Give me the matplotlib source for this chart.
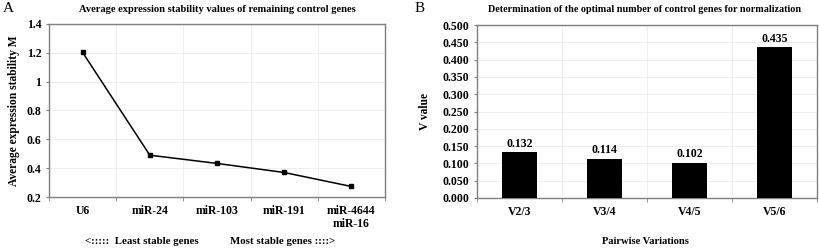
import matplotlib
matplotlib.use("Agg")
import matplotlib.pyplot as plt
import numpy as np

plt.rcParams['font.family'] = ['Liberation Serif', 'DejaVu Serif']
plt.rcParams['font.weight'] = 'bold'

genes = ["U6", "miR-24", "miR-103", "miR-191", "miR-4644\nmiR-16"]
stability_m = [1.203, 0.490, 0.433, 0.370, 0.273]
a_yticks = [0.2, 0.4, 0.6, 0.8, 1.0, 1.2, 1.4]
a_ytick_labels = ["0.2", "0.4", "0.6", "0.8", "1", "1.2", "1.4"]

pairs = ["V2/3", "V3/4", "V4/5", "V5/6"]
v_values = [0.132, 0.114, 0.102, 0.435]
b_yticks = [0.0, 0.05, 0.1, 0.15, 0.2, 0.25, 0.3, 0.35, 0.4, 0.45, 0.5]

W, H = 820, 248
fig = plt.figure(figsize=(W / 100, H / 100), dpi=100)

def ax_rect(l, t, r, b):
    return [l / W, 1 - b / H, (r - l) / W, (b - t) / H]

spine_col = "#7f7f7f"
grid_col = "#ececec"
fs_tick = 8.5

# Panel A
axA = fig.add_axes(ax_rect(49, 24, 385, 197))
x = np.arange(len(genes))
axA.plot(x, stability_m, color="black", lw=1.1, marker="s", ms=3.5, zorder=3)
axA.set_xlim(-0.5, len(genes) - 0.5)
axA.set_ylim(0.2, 1.4)
axA.set_yticks(a_yticks)
axA.set_yticklabels(a_ytick_labels, fontsize=fs_tick, fontweight="bold")
axA.set_xticks(x)
axA.set_xticklabels(genes, fontsize=fs_tick, fontweight="bold", linespacing=1.05)
axA.tick_params(axis="x", length=0, pad=6)
axA.tick_params(axis="y", length=2.5, color=spine_col, pad=3)
axA.set_xticks(np.arange(-0.5, len(genes), 1), minor=True)
axA.tick_params(axis="x", which="minor", length=3, color=spine_col, direction="out")
axA.grid(True, which="major", axis="y", color=grid_col, lw=0.6)
axA.grid(True, which="minor", axis="x", color=grid_col, lw=0.6)
axA.set_axisbelow(True)
for s in axA.spines.values():
    s.set_color(spine_col)
    s.set_linewidth(1.0)
axA.set_ylabel("Average expression stability M", fontsize=8.3, fontweight="bold", labelpad=5)
fig.text(217 / W, 1 - 9 / H, "Average expression stability values of remaining control genes",
         ha="center", va="center", fontsize=7.6, fontweight="bold")
fig.text(3 / W, 1 - 9 / H, "A", ha="left", va="center", fontsize=11, fontweight="normal")
fig.text(85 / W, 1 - 241 / H, "<:::::  Least stable genes", ha="left", va="center",
         fontsize=7.8, fontweight="bold")
fig.text(230 / W, 1 - 241 / H, "Most stable genes ::::>", ha="left", va="center",
         fontsize=7.8, fontweight="bold")

# Panel B
axB = fig.add_axes(ax_rect(477, 25, 817, 198))
xb = np.arange(len(pairs))
axB.bar(xb, v_values, width=0.41, color="black", zorder=3)
for xi, v in zip(xb, v_values):
    axB.text(xi, v + 0.008, f"{v:.3f}", ha="center", va="bottom", fontsize=fs_tick, fontweight="bold")
axB.set_xlim(-0.5, len(pairs) - 0.5)
axB.set_ylim(0, 0.5)
axB.set_yticks(b_yticks)
axB.set_yticklabels([f"{t:.3f}" for t in b_yticks], fontsize=fs_tick, fontweight="bold")
axB.set_xticks(xb)
axB.set_xticklabels(pairs, fontsize=fs_tick, fontweight="bold")
axB.tick_params(axis="x", length=0, pad=6)
axB.tick_params(axis="y", length=2.5, color=spine_col, pad=3)
axB.set_xticks(np.arange(-0.5, len(pairs), 1), minor=True)
axB.tick_params(axis="x", which="minor", length=3, color=spine_col, direction="out")
axB.grid(True, which="major", axis="y", color=grid_col, lw=0.6)
axB.grid(True, which="minor", axis="x", color=grid_col, lw=0.6)
axB.set_axisbelow(True)
for s in axB.spines.values():
    s.set_color(spine_col)
    s.set_linewidth(1.0)
axB.set_ylabel("V value", fontsize=8.3, fontweight="bold", labelpad=8)
fig.text(645 / W, 1 - 241 / H, "Pairwise Variations", ha="center", va="center",
         fontsize=7.6, fontweight="bold")
fig.text(645 / W, 1 - 9 / H, "Determination of the optimal number of control genes for normalization",
         ha="center", va="center", fontsize=7.3, fontweight="bold")
fig.text(415 / W, 1 - 9 / H, "B", ha="left", va="center", fontsize=11, fontweight="normal")

fig.savefig("out.png", dpi=100)
